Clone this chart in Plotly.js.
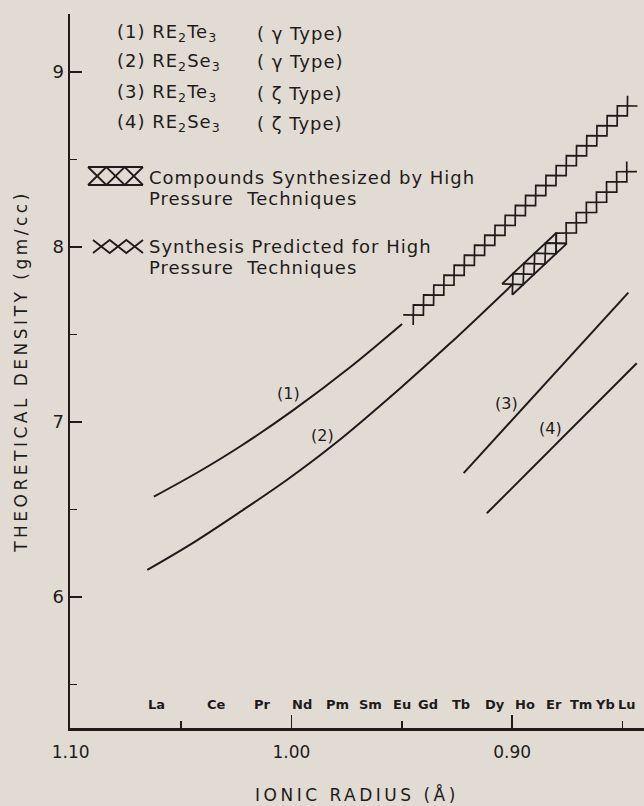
<!DOCTYPE html>
<html><head><meta charset="utf-8">
<script src="https://cdn.plot.ly/plotly-3.0.1.min.js"></script>
<style>
html,body{margin:0;padding:0;background:#e2dbd4;}
#chart{width:644px;height:806px;}
#chart .ytitle{letter-spacing:3.5px;}
#chart .xtitle{letter-spacing:3.5px;}
</style></head><body><div id="chart"></div>
<script>
// ---- data ----
const elements   = ['La','Ce','Pr','Nd','Pm','Sm','Eu','Gd','Tb','Dy','Ho','Er','Tm','Yb','Lu'];
const ionicRadii = [1.061,1.034,1.013,0.995,0.979,0.964,0.950,0.938,0.923,0.908,0.894,0.881,0.869,0.858,0.848];

// (1) RE2Te3 gamma type
const curve1X = [1.0623,1.0412,1.0231,0.9990,0.9733,0.9499];
const curve1Y = [6.573,6.721,6.861,7.069,7.314,7.560];
// (2) RE2Se3 gamma type
const curve2X = [1.0653,1.0457,1.0231,1.0018,0.9801,0.9507,0.9281,0.9001];
const curve2Y = [6.154,6.300,6.487,6.671,6.878,7.193,7.449,7.783];
// (3) RE2Te3 zeta type
const curve3X = [0.9220,0.8474];
const curve3Y = [6.707,7.739];
// (4) RE2Se3 zeta type
const curve4X = [0.9115,0.8436];
const curve4Y = [6.478,7.335];
// high-pressure extensions
const predicted1X = [0.9448,0.8478];
const predicted1Y = [7.611,8.806];
const synthesized2X = [0.8998,0.8801];
const synthesized2Y = [7.787,8.021];
const predicted2X = [0.8801,0.8481];
const predicted2Y = [8.021,8.430];

const curveLabels = ['(1)','(2)','(3)','(4)'];
const curveLabelX = [1.0012,0.9861,0.9024,0.8828];
const curveLabelY = [7.164,6.920,7.107,6.964];

const legendFormula = ['(1) RE<sub>2</sub>Te<sub>3</sub>','(2) RE<sub>2</sub>Se<sub>3</sub>','(3) RE<sub>2</sub>Te<sub>3</sub>','(4) RE<sub>2</sub>Se<sub>3</sub>'];
const legendType = ['( γ Type)','( γ Type)','( ζ Type)','( ζ Type)'];
const legendNotes = ['Compounds Synthesized by High','Pressure  Techniques','Synthesis Predicted for High','Pressure  Techniques'];

// ---- layout constants ----
const W=644,H=806,M={l:70,r:0,t:14,b:78};
const xRange=[1.1003,0.8403], yRange=[5.251,9.331];
const ink='#1e1b1b', bg='#e2dbd4';
const plotW=W-M.l-M.r, plotH=H-M.t-M.b;
const pxPerY=plotH/(yRange[1]-yRange[0]);
const px2paperX=p=>(p-M.l)/plotW, px2paperY=p=>(H-M.b-p)/plotH;

function lineTrace(x,y,extra){return Object.assign({x:x,y:y,mode:'lines',hoverinfo:'skip',line:{color:ink,width:2}},extra||{});}

const traces=[
  lineTrace(curve1X,curve1Y,{line:{color:ink,width:2,shape:'spline',smoothing:1}}),
  lineTrace(curve2X,curve2Y,{line:{color:ink,width:2,shape:'spline',smoothing:1}}),
  lineTrace(curve3X,curve3Y),
  lineTrace(curve4X,curve4Y),
  {x:ionicRadii,y:ionicRadii.map(()=>yRange[0]-5/pxPerY),mode:'markers',cliponaxis:false,hoverinfo:'skip',
   marker:{symbol:'triangle-up',size:6,color:ink,line:{width:0}}}
];

const ann=[];
const legendRowsY=[33,62,93,123];
legendFormula.forEach((t,i)=>{
  ann.push({xref:'paper',yref:'paper',x:px2paperX(115),y:px2paperY(legendRowsY[i]),xanchor:'left',yanchor:'middle',align:'left',text:t,showarrow:false,font:{size:18,color:ink}});
  ann.push({xref:'paper',yref:'paper',x:px2paperX(255),y:px2paperY(legendRowsY[i]),xanchor:'left',yanchor:'middle',align:'left',text:legendType[i],showarrow:false,font:{size:18,color:ink}});
});
const noteY=[178,199,247,267];
legendNotes.forEach((t,i)=>{
  ann.push({xref:'paper',yref:'paper',x:px2paperX(147),y:px2paperY(noteY[i]),xanchor:'left',yanchor:'middle',align:'left',text:t,showarrow:false,font:{size:18,color:ink}});
});
const legendCount=ann.length;
curveLabels.forEach((t,i)=>{
  ann.push({x:curveLabelX[i],y:curveLabelY[i],text:t,showarrow:false,font:{size:16,color:ink},xanchor:'center',yanchor:'middle'});
});
elements.forEach((e,i)=>{
  ann.push({x:ionicRadii[i],y:yRange[0],yanchor:'bottom',yshift:14,text:'<b>'+e+'</b>',showarrow:false,font:{size:13,color:ink}});
});

// CSS letter spacing for legend annotations
let css='';
for(let i=0;i<legendCount;i++){css+='#chart .annotation[data-index="'+i+'"] text'+(i<legendCount-1?',':'');}
css+='{letter-spacing:1px;}';
const st=document.createElement('style');st.textContent=css;document.head.appendChild(st);

// legend symbols as paper shapes
function pathPx(pts){return pts.map((p,i)=>(i?'L':'M')+px2paperX(p[0]).toFixed(5)+','+px2paperY(p[1]).toFixed(5)).join(' ');}
const shapes=[];
function xSymbol(x0,x1,yt,yb,boxed){
  const n=3,w=(x1-x0)/n,A=[],B=[];
  for(let k=0;k<=n;k++){const x=x0+k*w;A.push([x,k%2?yb:yt]);B.push([x,k%2?yt:yb]);}
  shapes.push({type:'path',xref:'paper',yref:'paper',path:pathPx(A),line:{color:ink,width:1.8}});
  shapes.push({type:'path',xref:'paper',yref:'paper',path:pathPx(B),line:{color:ink,width:1.8}});
  if(boxed){
    shapes.push({type:'path',xref:'paper',yref:'paper',path:pathPx([[x0,yt],[x1,yt]]),line:{color:ink,width:2.2}});
    shapes.push({type:'path',xref:'paper',yref:'paper',path:pathPx([[x0,yb],[x1,yb]]),line:{color:ink,width:2.2}});
  }
}
xSymbol(88,143,167,185,true);
xSymbol(93,143,240,253,false);

const axisCommon={showgrid:false,zeroline:false,showline:true,linecolor:ink,linewidth:2.5,ticks:'inside',tickcolor:ink,tickwidth:1.6,autorange:false,fixedrange:true};
const layout={
  width:W,height:H,margin:{l:M.l,r:M.r,t:M.t,b:M.b,pad:0},
  paper_bgcolor:bg,plot_bgcolor:bg,showlegend:false,
  font:{family:'DejaVu Sans, sans-serif',color:ink},
  xaxis:Object.assign({},axisCommon,{range:xRange,tick0:0,dtick:0.1,ticklen:13,tickformat:'.2f',
    tickfont:{size:17,color:ink},ticklabelstandoff:7,
    minor:{dtick:0.05,ticks:'inside',ticklen:7,tickwidth:1.6,tickcolor:ink,showgrid:false},
    title:{text:'IONIC RADIUS (Å)',font:{size:17,color:ink},standoff:28}}),
  yaxis:Object.assign({},axisCommon,{range:yRange,tick0:0,dtick:1,ticklen:12,
    tickfont:{size:18,color:ink},ticklabelstandoff:0,
    minor:{dtick:0.5,ticks:'inside',ticklen:7,tickwidth:1.6,tickcolor:ink,showgrid:false},
    title:{text:'THEORETICAL DENSITY (gm/cc)',font:{size:17,color:ink},standoff:21}}),
  annotations:ann,shapes:shapes
};

const gd=document.getElementById('chart');
Plotly.newPlot(gd,traces,layout,{staticPlot:true,displayModeBar:false}).then(()=>{
  const xa=gd._fullLayout.xaxis, ya=gd._fullLayout.yaxis;
  // chain of crosses along a segment, computed in pixel space via the axes
  function chain(xs,ys,n,band){
    const p0=[xa.c2p(xs[0]),ya.c2p(ys[0])],p1=[xa.c2p(xs[1]),ya.c2p(ys[1])];
    const dx=p1[0]-p0[0],dy=p1[1]-p0[1],L=Math.hypot(dx,dy);
    const u=[dx/L,dy/L],nv=[-u[1],u[0]];
    const h=L/n,a=h/2;
    const A={x:[],y:[]},B={x:[],y:[]};
    for(let k=0;k<=n+1;k++){
      const t=-h/2+k*h,sg=(k%2===0)?1:-1;
      const bx=p0[0]+u[0]*t,by=p0[1]+u[1]*t;
      A.x.push(xa.p2c(bx+nv[0]*a*sg));A.y.push(ya.p2c(by+nv[1]*a*sg));
      B.x.push(xa.p2c(bx-nv[0]*a*sg));B.y.push(ya.p2c(by-nv[1]*a*sg));
    }
    const out=[lineTrace(A.x,A.y,{line:{color:ink,width:1.7}}),lineTrace(B.x,B.y,{line:{color:ink,width:1.7}})];
    if(band){
      [1,-1].forEach(s=>{
        const ex=[],ey=[];
        [-h/2,L+h/2].forEach(t=>{ex.push(xa.p2c(p0[0]+u[0]*t+nv[0]*a*s));ey.push(ya.p2c(p0[1]+u[1]*t+nv[1]*a*s));});
        out.push(lineTrace(ex,ey,{line:{color:ink,width:1.9}}));
      });
    }
    return out;
  }
  const extra=[].concat(chain(predicted1X,predicted1Y,21,false),chain(synthesized2X,synthesized2Y,4,true),chain(predicted2X,predicted2Y,7,false));
  return Plotly.addTraces(gd,extra);
});
</script></body></html>
